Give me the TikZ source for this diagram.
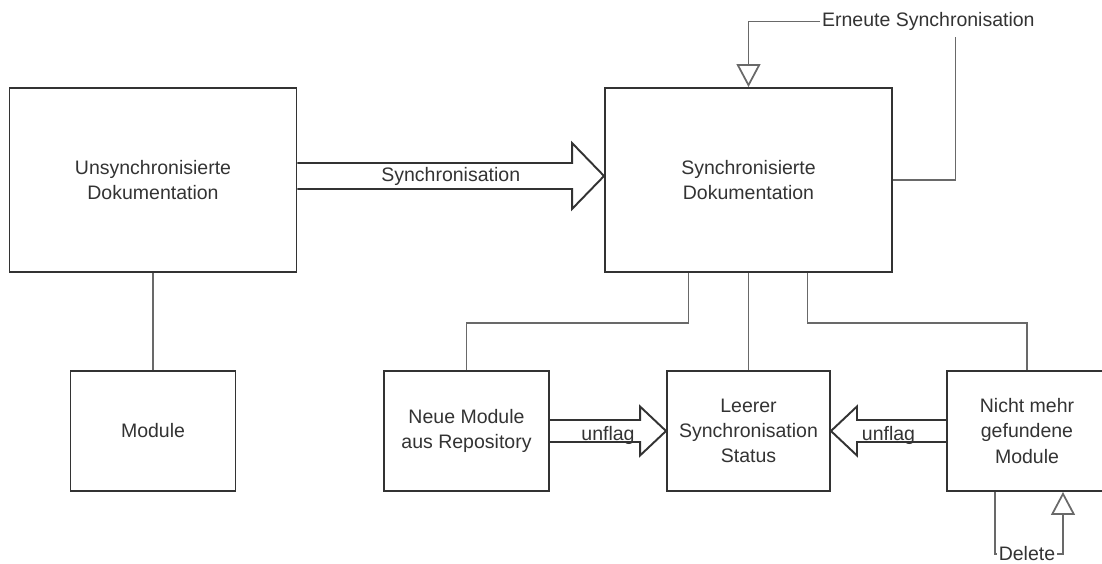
\documentclass[tikz,border=0pt]{standalone}
\usepackage{fontspec}
\setmainfont{Liberation Sans}
\usetikzlibrary{arrows.meta, calc}
\definecolor{boxgray}{RGB}{51, 51, 51}
\definecolor{linkgray}{RGB}{105, 105, 105}

% wide outline arrow: start, tip, half shaft, half head, head length
\newcommand{\fatarrow}[5]{%
  \coordinate (hb) at ($(#2)!#5!(#1)$);
  \draw[fatline] ($(#1)+(0,#3)$) -- ($(hb)+(0,#3)$) -- ($(hb)+(0,#4)$) -- (#2)
    -- ($(hb)+(0,-#4)$) -- ($(hb)+(0,-#3)$) -- ($(#1)+(0,-#3)$);}

\begin{document}
\begin{tikzpicture}[
    font=\fontsize{11.1}{14.4}\selectfont,
    box/.style={draw=boxgray, line width=1.1pt, text=boxgray, align=center,
      minimum width=3.3cm, minimum height=2.4cm},
    doc/.style={box, minimum width=5.74cm, minimum height=3.68cm},
    link/.style={draw=linkgray, line width=1pt},
    fatline/.style={draw=boxgray, line width=1.1pt, line join=miter},
    lbl/.style={text=boxgray, inner sep=1pt},
    hollow/.style={-{Triangle[open, length=0.46cm, width=0.48cm]}}
]
    \useasboundingbox (0,0) rectangle (22.04,11.28);

    % Draw Boxes
    \node[doc] (unsync) at (3.06,7.68) {Unsynchronisierte\\Dokumentation};
    \node[doc] (sync) at (14.97,7.68) {Synchronisierte\\Dokumentation};
    \node[box] (module) at (3.06,2.66) {Module};
    \node[box] (neue) at (9.33,2.66) {Neue Module\\aus Repository};
    \node[box, minimum width=3.26cm] (leer) at (14.97,2.66) {Leerer\\Synchronisation\\Status};
    \node[box, minimum width=3.2cm] (nicht) at (20.54,2.66) {Nicht mehr\\gefundene\\Module};

    % Draw Labels
    \node[lbl, anchor=west] (erneute) at (16.4,10.85) {Erneute Synchronisation};
    \node[lbl, anchor=base] (delete) at (20.54,0.06) {Delete};

    % Draw Links
    \draw[link] (unsync.south) -- (module.north);
    \draw[link] ([xshift=-1.2cm]sync.south) -- ++(0,-1) -| (neue.north);
    \draw[link] (sync.south) -- (leer.north);
    \draw[link] ([xshift=1.18cm]sync.south) -- ++(0,-1) -| (nicht.north);

    % Erneute Synchronisation loop
    \coordinate (erneuteEnd) at (19.11,10.54);
    \draw[link] (sync.east) -| (erneuteEnd);
    \draw[link, hollow] (erneute.west) -| (sync.north);

    % Delete loop
    \coordinate (delLeft) at (19.9,0);
    \coordinate (delRight) at (21.26,0);
    \draw[link] (nicht.south -| delLeft) |- (delete.west);
    \draw[link, hollow] (delete.east) -| (nicht.south -| delRight);

    % Draw Wide Arrows
    \coordinate (syncStart) at ($(unsync.east)+(0,0.08)$);
    \coordinate (syncTip) at (syncStart -| sync.west);
    \fatarrow{syncStart}{syncTip}{0.26}{0.66}{0.64cm}
    \node[lbl] (syncLabel) at ($(syncStart)!0.5!(syncTip)$) {Synchronisation};

    \fatarrow{neue.east}{leer.west}{0.22}{0.49}{0.52cm}
    \node[lbl, yshift=-0.08cm] (unflagLeft) at ($(neue.east)!0.5!(leer.west)$) {unflag};

    \fatarrow{nicht.west}{leer.east}{0.22}{0.49}{0.52cm}
    \node[lbl, yshift=-0.08cm] (unflagRight) at ($(nicht.west)!0.5!(leer.east)$) {unflag};
\end{tikzpicture}
\end{document}
